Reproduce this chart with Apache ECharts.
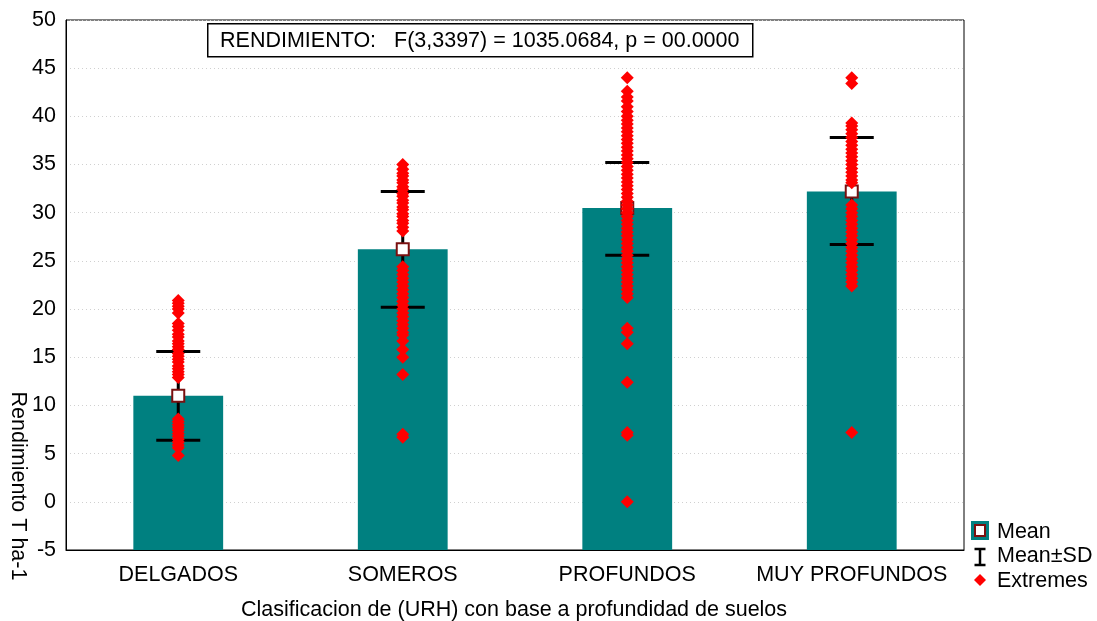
<!DOCTYPE html>
<html>
<head>
<meta charset="utf-8">
<title>Rendimiento por clase de profundidad</title>
<script src="https://cdn.jsdelivr.net/npm/echarts@6/dist/echarts.min.js"></script>
<style>
  html, body { margin: 0; padding: 0; background: #fff; }
  #chart { width: 1097px; height: 621px; }
</style>
</head>
<body>
<div id="chart"></div>
<script>
// Soil-depth classes (URH) and yield statistics, T ha-1
const categories = ['DELGADOS', 'SOMEROS', 'PROFUNDOS', 'MUY PROFUNDOS'];
const means = [11.0, 26.2, 30.5, 32.2];
const sdLower = [6.4, 20.2, 25.6, 26.7];
const sdUpper = [15.6, 32.2, 35.2, 37.8];

// Extreme observations per class
const extremesDelgados = [20.9, 20.6, 20.3, 20.0, 19.6, 18.5, 18.2, 17.8, 17.4, 17.1, 16.7, 16.4,
  16.1, 15.8, 15.4, 15.1, 14.8, 14.5, 14.1, 13.8, 13.5, 13.2, 12.9,
  8.6, 8.3, 8.0, 7.7, 7.4, 7.1, 6.8, 6.5, 6.2, 5.9, 5.6, 4.8];
const extremesSomeros = [35.0, 34.5, 34.1, 33.8, 33.4, 33.1, 32.7, 32.4, 32.0, 31.7, 31.3, 31.0,
  30.6, 30.3, 29.9, 29.6, 29.2, 28.9, 28.5, 28.1,
  24.4, 24.0, 23.6, 23.2, 22.8, 22.4, 22.0, 21.6, 21.2, 20.8, 20.4, 20.0, 19.6, 19.2,
  18.8, 18.4, 18.0, 17.6, 17.3, 16.7, 15.8, 15.0, 13.2, 7.0, 6.7];
const extremesProfundos = [44.0, 42.6, 42.0, 41.6, 41.0, 40.5, 40.0, 39.6, 39.2, 38.8, 38.4, 38.0,
  37.6, 37.2, 36.8, 36.4, 36.0, 35.6, 35.2, 34.8, 34.4, 34.0, 33.6, 33.2, 32.8, 32.4,
  32.0, 31.6, 31.2, 30.8, 30.4, 30.0, 29.6, 29.2, 28.8, 28.4, 28.0, 27.6, 27.2, 26.8,
  26.4, 26.0, 25.6, 25.2, 24.8, 24.4, 24.0, 23.6, 23.2, 22.8, 22.4, 22.0, 21.6, 21.2,
  18.0, 17.6, 16.4, 12.4, 7.2, 6.9, 0.0];
const extremesMuyProfundos = [44.0, 43.4, 39.3, 39.0, 38.6, 38.2, 37.8, 37.4, 37.0, 36.6, 36.2,
  35.8, 35.4, 35.0, 34.6, 34.2, 33.8, 33.4, 33.1,
  30.8, 30.4, 30.0, 29.6, 29.2, 28.8, 28.4, 28.0, 27.6, 27.2, 26.8, 26.4, 26.0, 25.6,
  25.2, 24.8, 24.4, 24.0, 23.6, 23.2, 22.8, 22.4, 7.2];

const yTicks = { min: -5, max: 50, interval: 5 };
const titleText = 'RENDIMIENTO:   F(3,3397) = 1035.0684, p = 00.0000';
const xName = 'Clasificacion de (URH) con base a profundidad de suelos';
const yName = 'Rendimiento T ha-1';

const FONT = '"Liberation Sans", Arial, sans-serif';
const FS = 21.5;
const TEAL = '#008080';
const RED = '#ff0000';
const MEAN_BORDER = '#7a1010';

const extremeSets = [extremesDelgados, extremesSomeros, extremesProfundos, extremesMuyProfundos];
const extremesData = [];
extremeSets.forEach((vals, i) => vals.forEach(v => extremesData.push([i, v])));

const chart = echarts.init(document.getElementById('chart'), null, { renderer: 'canvas' });

chart.setOption({
  animation: false,
  backgroundColor: '#fff',
  textStyle: { fontFamily: FONT },
  grid: {
    left: 66, right: 133, top: 20, bottom: 71,
    show: true, borderColor: '#000', borderWidth: 1, backgroundColor: 'transparent'
  },
  xAxis: {
    type: 'category',
    data: categories,
    boundaryGap: true,
    axisLine: { onZero: false, lineStyle: { color: '#000', width: 1 } },
    axisTick: { show: false },
    axisLabel: { color: '#000', fontSize: FS, fontFamily: FONT, margin: 14, interval: 0 },
    splitLine: { show: false }
  },
  yAxis: {
    type: 'value',
    min: yTicks.min, max: yTicks.max, interval: yTicks.interval,
    axisLine: { show: true, lineStyle: { color: '#000', width: 1 } },
    axisTick: { show: false },
    axisLabel: { color: '#000', fontSize: FS, fontFamily: FONT, margin: 10 },
    splitLine: { show: true, lineStyle: { color: '#d0d0d0', type: [1, 3], width: 1 } }
  },
  graphic: [
    {
      type: 'group', left: 207, top: 23,
      children: [
        { type: 'rect', shape: { x: 0, y: 0, width: 545, height: 33 },
          style: { fill: '#fff', stroke: '#000', lineWidth: 1.5 } },
        { type: 'text', x: 272, y: 17,
          style: { text: titleText, font: FS + 'px ' + FONT, fill: '#000', align: 'center', verticalAlign: 'middle' } }
      ]
    },
    { type: 'text', x: 514, y: 610,
      style: { text: xName, font: FS + 'px ' + FONT, fill: '#000', align: 'center', verticalAlign: 'middle' } },
    { type: 'text', x: 18, y: 486, rotation: -Math.PI / 2,
      style: { text: yName, font: FS + 'px ' + FONT, fill: '#000', align: 'center', verticalAlign: 'middle' } },
    // legend
    { type: 'rect', shape: { x: 971, y: 521, width: 18, height: 19 }, style: { fill: TEAL } },
    { type: 'rect', shape: { x: 975, y: 525, width: 10, height: 11 }, style: { fill: '#fff', stroke: MEAN_BORDER, lineWidth: 2 } },
    { type: 'text', x: 997, y: 532, style: { text: 'Mean', font: FS + 'px ' + FONT, fill: '#000', verticalAlign: 'middle' } },
    { type: 'line', shape: { x1: 980, y1: 549, x2: 980, y2: 565 }, style: { stroke: '#000', lineWidth: 2.5 } },
    { type: 'line', shape: { x1: 974.5, y1: 549, x2: 985.5, y2: 549 }, style: { stroke: '#000', lineWidth: 2.5 } },
    { type: 'line', shape: { x1: 974.5, y1: 565, x2: 985.5, y2: 565 }, style: { stroke: '#000', lineWidth: 2.5 } },
    { type: 'text', x: 997, y: 556, style: { text: 'Mean\u00b1SD', font: FS + 'px ' + FONT, fill: '#000', verticalAlign: 'middle' } },
    { type: 'polygon', shape: { points: [[980, 574], [986, 580], [980, 586], [974, 580]] }, style: { fill: RED } },
    { type: 'text', x: 997, y: 581, style: { text: 'Extremes', font: FS + 'px ' + FONT, fill: '#000', verticalAlign: 'middle' } }
  ],
  series: [
    {
      name: 'Mean bars',
      type: 'custom',
      data: means.map((m, i) => [i, m]),
      z: 2,
      renderItem: function (params, api) {
        const i = api.value(0);
        const top = api.coord([i, api.value(1)]);
        const base = api.coord([i, yTicks.min]);
        const w = api.size([1, 0])[0] * 0.4;
        return {
          type: 'rect',
          shape: { x: top[0] - w / 2, y: top[1], width: w, height: base[1] - top[1] },
          style: { fill: TEAL }
        };
      }
    },
    {
      name: 'Mean±SD',
      type: 'custom',
      data: means.map((m, i) => [i, sdLower[i], sdUpper[i]]),
      z: 3,
      renderItem: function (params, api) {
        const i = api.value(0);
        const lo = api.coord([i, api.value(1)]);
        const hi = api.coord([i, api.value(2)]);
        const half = 22;
        const st = { stroke: '#000', lineWidth: 3 };
        return {
          type: 'group',
          children: [
            { type: 'line', shape: { x1: lo[0], y1: lo[1], x2: hi[0], y2: hi[1] }, style: st },
            { type: 'line', shape: { x1: lo[0] - half, y1: lo[1], x2: lo[0] + half, y2: lo[1] }, style: st },
            { type: 'line', shape: { x1: hi[0] - half, y1: hi[1], x2: hi[0] + half, y2: hi[1] }, style: st }
          ]
        };
      }
    },
    {
      name: 'Mean',
      type: 'scatter',
      data: means.map((m, i) => [i, m]),
      symbol: 'rect',
      symbolSize: 12,
      z: 4,
      itemStyle: { color: '#fff', borderColor: MEAN_BORDER, borderWidth: 2, opacity: 1 }
    },
    {
      name: 'Extremes',
      type: 'scatter',
      data: extremesData,
      symbol: 'diamond',
      symbolSize: [13, 13],
      z: 5,
      itemStyle: { color: RED, opacity: 1 }
    }
  ]
});
</script>
</body>
</html>
